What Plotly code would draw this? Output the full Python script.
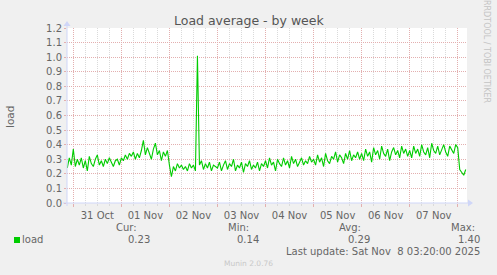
import plotly.graph_objects as go
import pandas as pd

# ---- data (hourly load average) ----
start_time = "2025-10-30 21:00"
load_values = [
    0.24, 0.31, 0.26,
    # 31 Oct
    0.37, 0.25, 0.30, 0.26, 0.31, 0.24, 0.29, 0.22, 0.32, 0.27, 0.25, 0.30,
    0.33, 0.26, 0.29, 0.25, 0.30, 0.27, 0.31, 0.28, 0.25, 0.29, 0.30, 0.26,
    # 01 Nov
    0.31, 0.29, 0.33, 0.30, 0.34, 0.32, 0.35, 0.30, 0.34, 0.31, 0.36, 0.43,
    0.33, 0.38, 0.34, 0.30, 0.37, 0.41, 0.33, 0.36, 0.29, 0.35, 0.32, 0.36,
    # 02 Nov
    0.26, 0.18, 0.25, 0.22, 0.27, 0.24, 0.26, 0.23, 0.25, 0.22, 0.27, 0.24,
    0.26, 0.22, 1.01, 0.26, 0.29, 0.23, 0.27, 0.24, 0.28, 0.22, 0.26, 0.25,
    # 03 Nov
    0.24, 0.28, 0.22, 0.26, 0.29, 0.23, 0.27, 0.25, 0.30, 0.22, 0.26, 0.24,
    0.28, 0.21, 0.27, 0.25, 0.29, 0.23, 0.26, 0.24, 0.28, 0.22, 0.27, 0.25,
    # 04 Nov
    0.29, 0.24, 0.31, 0.26, 0.28, 0.22, 0.30, 0.27, 0.25, 0.31, 0.26, 0.29,
    0.24, 0.32, 0.27, 0.30, 0.25, 0.28, 0.31, 0.26, 0.29, 0.27, 0.32, 0.28,
    # 05 Nov
    0.30, 0.26, 0.33, 0.28, 0.31, 0.25, 0.34, 0.29, 0.27, 0.32, 0.30, 0.35,
    0.28, 0.33, 0.31, 0.27, 0.34, 0.30, 0.36, 0.29, 0.33, 0.31, 0.35, 0.30,
    # 06 Nov
    0.34, 0.29, 0.37, 0.32, 0.35, 0.28, 0.38, 0.33, 0.36, 0.30, 0.39, 0.34,
    0.32, 0.37, 0.29, 0.35, 0.38, 0.33, 0.36, 0.31, 0.39, 0.34, 0.37, 0.32,
    # 07 Nov
    0.36, 0.31, 0.39, 0.34, 0.37, 0.32, 0.40, 0.35, 0.33, 0.38, 0.31, 0.41,
    0.36, 0.34, 0.39, 0.33, 0.37, 0.40, 0.35, 0.32, 0.39, 0.36, 0.34, 0.40,
    # 08 Nov
    0.38, 0.23, 0.21, 0.19, 0.23,
]
times = pd.date_range(start_time, periods=len(load_values), freq="h")

x_range = ["2025-10-30 20:51", "2025-11-08 04:38"]
y_range = [0, 1.2]

series_name = "load"
stat_labels = ["Cur:", "Min:", "Avg:", "Max:"]
stat_values = ["0.23", "0.14", "0.29", "1.40"]
title_text = "Load average - by week"
y_title = "load"
last_update = "Last update: Sat Nov  8 03:20:00 2025"
footer = "Munin 2.0.76"
side_text = "RRDTOOL / TOBI OETIKER"

# ---- layout geometry ----
W, H = 497, 275
L, T, PW, PH = 67, 28, 400, 175
FONT = "DejaVu Sans"
TXT = "#666666"
AXIS = "#CFD6F8"


def px(x):
    return (x - L) / PW


def py(y):
    return (T + PH - y) / PH


fig = go.Figure()
fig.add_trace(go.Scatter(x=times, y=load_values, mode="lines",
                         line=dict(color="#00CC00", width=1.1),
                         showlegend=False, hoverinfo="skip"))

fig.update_layout(
    width=W, height=H,
    margin=dict(l=L, r=W - L - PW, t=T, b=H - T - PH),
    paper_bgcolor="#F0F0F0", plot_bgcolor="#FFFFFF",
    font=dict(family=FONT, size=10, color=TXT),
    showlegend=False,
)

fig.update_xaxes(
    type="date", range=x_range,
    dtick=86400000, tick0="2025-10-31",
    ticklabelmode="period", tickformat="%d %b",
    showgrid=True, gridcolor="#E3AFAF", griddash="1px,1px", gridwidth=1,
    ticks="outside", ticklen=3, tickcolor="#E3AFAF",
    tickfont=dict(size=10, color=TXT),
    minor=dict(dtick=21600000, showgrid=True, gridcolor="#DADADA",
               griddash="1px,1px", ticks="outside", ticklen=2, tickcolor="#DADADA"),
    showline=False, zeroline=False, fixedrange=True,
)
fig.update_yaxes(
    range=y_range, dtick=0.1, tick0=0, tickformat=".1f",
    showgrid=True, gridcolor="#E3AFAF", griddash="1px,1px", gridwidth=1,
    ticks="outside", ticklen=2, tickcolor="#E3AFAF",
    tickfont=dict(size=10, color=TXT),
    showline=False, zeroline=False, fixedrange=True,
)

# axis lines with arrows
fig.add_shape(type="line", xref="paper", yref="paper",
              x0=px(63), x1=px(470), y0=py(203), y1=py(203),
              line=dict(color=AXIS, width=1))
fig.add_shape(type="line", xref="paper", yref="paper",
              x0=px(67), x1=px(67), y0=py(206), y1=py(23),
              line=dict(color=AXIS, width=1))
fig.add_shape(type="path", xref="paper", yref="paper",
              path=f"M {px(468)} {py(199.5)} L {px(473)} {py(203)} L {px(468)} {py(206.5)} Z",
              fillcolor=AXIS, line=dict(color=AXIS, width=0))
fig.add_shape(type="path", xref="paper", yref="paper",
              path=f"M {px(63.5)} {py(26)} L {px(67)} {py(21)} L {px(70.5)} {py(26)} Z",
              fillcolor=AXIS, line=dict(color=AXIS, width=0))

# legend square
fig.add_shape(type="rect", xref="paper", yref="paper",
              x0=px(14), x1=px(20), y0=py(243), y1=py(237),
              fillcolor="#00CC00", line=dict(width=0))


def ann(text, x, y, xa="left", size=10, color=TXT, angle=0):
    fig.add_annotation(text=text, xref="paper", yref="paper", x=px(x), y=py(y),
                       xanchor=xa, yanchor="middle", showarrow=False,
                       textangle=angle, font=dict(family=FONT, size=size, color=color))


ann(title_text, 248.5, 21, xa="center", size=12.5, color="#555555")
ann(y_title, 10, 117, xa="center", size=10.5, angle=-90)
ann(side_text, 487, 51, xa="center", size=8, color="#C4C4C4", angle=90)

ann(series_name, 20, 239.5)
label_right = [139, 251, 363, 477]
value_right = [152, 261, 372, 482]
for lab, val, lr, vr in zip(stat_labels, stat_values, label_right, value_right):
    ann(lab, lr, 227.5, xa="right")
    ann(val, vr, 239.5, xa="right")
ann(last_update, 482, 251, xa="right")
ann(footer, 248, 263.5, xa="center", size=7.5, color="#C8C8C8")

fig.write_html("out.html")
